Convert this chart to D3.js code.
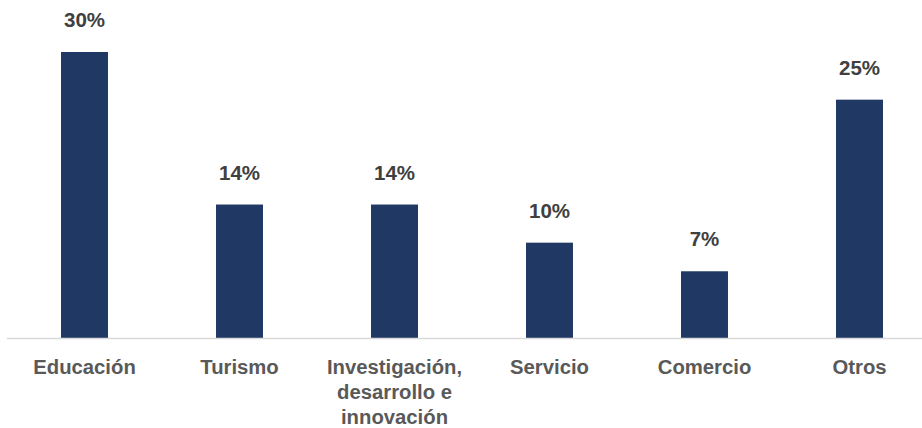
<!DOCTYPE html>
<html>
<head>
<meta charset="utf-8">
<script src="https://cdn.jsdelivr.net/npm/d3@7"></script>
<style>
  html, body { margin: 0; padding: 0; background: #ffffff; }
  svg { display: block; }
</style>
</head>
<body>
<div id="chart"></div>
<script>
// Sector shares (%)
const categories = [
  ["Educación"],
  ["Turismo"],
  ["Investigación,", "desarrollo e", "innovación"],
  ["Servicio"],
  ["Comercio"],
  ["Otros"]
];
const values = [30, 14, 14, 10, 7, 25];
const valueLabels = ["30%", "14%", "14%", "10%", "7%", "25%"];

const width = 922, height = 428;
const baseY = 338;

const svg = d3.select("#chart").append("svg")
  .attr("width", width)
  .attr("height", height);

const keys = categories.map(c => c.join(" "));

const x = d3.scaleBand()
  .domain(keys)
  .range([7, 937])
  .paddingInner(0.697)
  .paddingOuter(0.3485);

const y = d3.scaleLinear()
  .domain([0, 30])
  .range([baseY, 52]);

// bars
svg.append("g").selectAll("rect")
  .data(values)
  .join("rect")
  .attr("x", (d, i) => x(keys[i]))
  .attr("y", d => y(d))
  .attr("width", x.bandwidth())
  .attr("height", d => baseY - y(d))
  .attr("fill", "#203864");

// baseline axis
svg.append("line")
  .attr("x1", 7).attr("x2", width)
  .attr("y1", baseY + 0.5).attr("y2", baseY + 0.5)
  .attr("stroke", "#d9d9d9")
  .attr("stroke-width", 1.5);

// value labels
svg.append("g").selectAll("text")
  .data(values)
  .join("text")
  .attr("x", (d, i) => x(keys[i]) + x.bandwidth() / 2)
  .attr("y", d => y(d) - 25)
  .attr("text-anchor", "middle")
  .attr("font-family", "Liberation Sans, Arial, sans-serif")
  .attr("font-weight", "bold")
  .attr("font-size", 20.5)
  .attr("fill", "#404040")
  .text((d, i) => valueLabels[i]);

// category labels
const cat = svg.append("g").selectAll("text")
  .data(categories)
  .join("text")
  .attr("text-anchor", "middle")
  .attr("font-family", "Liberation Sans, Arial, sans-serif")
  .attr("font-weight", "bold")
  .attr("font-size", 20.3)
  .attr("fill", "#595959")
  .attr("transform", (d, i) => `translate(${x(keys[i]) + x.bandwidth() / 2},374)`);

cat.selectAll("tspan")
  .data(d => d)
  .join("tspan")
  .attr("x", 0)
  .attr("y", (d, j) => j * 25)
  .text(d => d);
</script>
</body>
</html>
